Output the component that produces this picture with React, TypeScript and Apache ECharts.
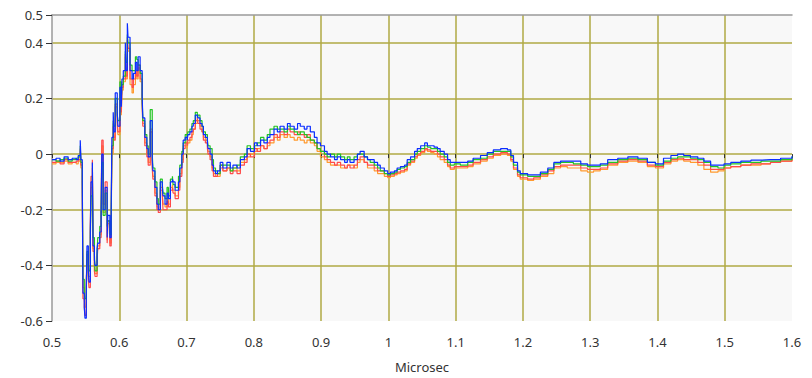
import React, { useEffect, useRef } from "react";
import * as echarts from "echarts";

const times = [
  0.500, 0.506, 0.512, 0.518, 0.524, 0.530, 0.536, 0.539, 0.542, 0.543,
  0.545, 0.546, 0.548, 0.549, 0.551, 0.552, 0.554, 0.555, 0.557, 0.558,
  0.560, 0.561, 0.563, 0.564, 0.567, 0.568, 0.571, 0.573, 0.574, 0.576,
  0.579, 0.582, 0.583, 0.586, 0.588, 0.589, 0.591, 0.592, 0.594, 0.597,
  0.598, 0.601, 0.603, 0.604, 0.606, 0.609, 0.610, 0.612, 0.613, 0.616,
  0.619, 0.621, 0.624, 0.626, 0.628, 0.631, 0.634, 0.635, 0.638, 0.641,
  0.643, 0.646, 0.649, 0.650, 0.653, 0.656, 0.658, 0.661, 0.664, 0.665,
  0.668, 0.671, 0.673, 0.676, 0.679, 0.680, 0.683, 0.686, 0.688, 0.690,
  0.693, 0.695, 0.698, 0.701, 0.702, 0.705, 0.708, 0.710, 0.713, 0.716,
  0.717, 0.720, 0.723, 0.725, 0.728, 0.731, 0.732, 0.735, 0.738, 0.740,
  0.743, 0.746, 0.750, 0.754, 0.760, 0.765, 0.769, 0.775, 0.780, 0.786,
  0.790, 0.795, 0.801, 0.805, 0.810, 0.815, 0.820, 0.824, 0.830, 0.835,
  0.839, 0.845, 0.850, 0.854, 0.860, 0.865, 0.869, 0.875, 0.879, 0.884,
  0.890, 0.894, 0.899, 0.905, 0.909, 0.914, 0.920, 0.924, 0.929, 0.935,
  0.939, 0.943, 0.949, 0.954, 0.958, 0.964, 0.969, 0.973, 0.979, 0.984,
  0.988, 0.994, 0.999, 1.003, 1.009, 1.013, 1.018, 1.024, 1.028, 1.033,
  1.039, 1.043, 1.048, 1.054, 1.058, 1.063, 1.068, 1.073, 1.077, 1.083,
  1.088, 1.092, 1.098, 1.107, 1.118, 1.126, 1.137, 1.147, 1.156, 1.167,
  1.177, 1.182, 1.186, 1.192, 1.196, 1.207, 1.216, 1.226, 1.237, 1.246,
  1.256, 1.266, 1.275, 1.286, 1.296, 1.305, 1.315, 1.326, 1.341, 1.356,
  1.371, 1.385, 1.397, 1.409, 1.420, 1.430, 1.439, 1.449, 1.460, 1.469,
  1.479, 1.490, 1.499, 1.509, 1.524, 1.539, 1.554, 1.568, 1.583, 1.600,
];

const blueVals = [
  -0.02, -0.015, -0.025, -0.01, -0.02, -0.015, -0.02, -0.005, 0.05, -0.02,
  -0.1, -0.5, -0.55, -0.59, -0.5, -0.33, -0.42, -0.46, -0.27, -0.1,
  -0.03, -0.33, -0.38, -0.4, -0.34, -0.32, -0.28, -0.22, 0.0, -0.2,
  -0.12, -0.3, -0.22, -0.3, -0.2, 0.06, 0.15, 0.08, 0.22, 0.15,
  0.1, 0.24, 0.17, 0.27, 0.3, 0.4, 0.3, 0.47, 0.42, 0.3,
  0.27, 0.29, 0.33, 0.3, 0.35, 0.3, 0.21, 0.13, 0.06, 0.02,
  -0.01, 0.12, -0.02, -0.06, -0.12, -0.18, -0.2, -0.1, -0.12, -0.15,
  -0.18, -0.14, -0.16, -0.1, -0.09, -0.1, -0.13, -0.13, -0.1, -0.05,
  0.0, 0.05, 0.06, 0.05, 0.07, 0.08, 0.1, 0.11, 0.14, 0.14,
  0.13, 0.11, 0.1, 0.07, 0.06, 0.04, 0.02, 0.0, -0.04, -0.06,
  -0.07, -0.06, -0.03, -0.05, -0.03, -0.05, -0.04, -0.05, -0.02, -0.01,
  0.02, 0.01, 0.04, 0.03, 0.05, 0.04, 0.06, 0.07, 0.09, 0.08,
  0.1, 0.09, 0.11, 0.1, 0.09, 0.11, 0.1, 0.09, 0.1, 0.08,
  0.06, 0.04, 0.03, 0.01, 0.0, -0.01, -0.02, -0.01, -0.02, -0.03,
  -0.02, -0.03, -0.02, 0.0, 0.01, -0.01, -0.02, -0.02, -0.03, -0.04,
  -0.05, -0.06, -0.07, -0.065, -0.06, -0.05, -0.045, -0.04, -0.02, -0.01,
  0.01, 0.02, 0.03, 0.04, 0.03, 0.03, 0.025, 0.02, 0.01, 0.0,
  -0.02, -0.03, -0.03, -0.03, -0.025, -0.015, -0.005, 0.005, 0.015, 0.02,
  0.015, -0.005, -0.03, -0.06, -0.07, -0.075, -0.075, -0.065, -0.05, -0.03,
  -0.025, -0.025, -0.025, -0.035, -0.04, -0.04, -0.035, -0.02, -0.015, -0.01,
  -0.015, -0.03, -0.035, -0.015, -0.005, 0.0, -0.005, -0.01, -0.015, -0.025,
  -0.04, -0.04, -0.035, -0.03, -0.025, -0.022, -0.02, -0.02, -0.015, -0.008,
];

const greenVals = [
  -0.02, -0.025, -0.02, -0.015, -0.025, -0.02, -0.015, -0.01, 0.03, -0.03,
  -0.08, -0.45, -0.5, -0.52, -0.48, -0.35, -0.4, -0.42, -0.3, -0.15,
  -0.08, -0.3, -0.36, -0.42, -0.36, -0.3, -0.26, -0.2, -0.03, -0.22,
  -0.14, -0.26, -0.24, -0.29, -0.22, 0.03, 0.12, 0.1, 0.2, 0.14,
  0.12, 0.26, 0.2, 0.25, 0.28, 0.37, 0.33, 0.43, 0.4, 0.32,
  0.3, 0.3, 0.35, 0.34, 0.32, 0.29, 0.2, 0.12, 0.07, 0.03,
  0.0, 0.16, 0.0, -0.05, -0.1, -0.16, -0.18, -0.09, -0.11, -0.14,
  -0.16, -0.12, -0.15, -0.09, -0.08, -0.11, -0.12, -0.12, -0.08, -0.04,
  0.01, 0.04, 0.07, 0.06, 0.08, 0.09, 0.11, 0.12, 0.15, 0.13,
  0.14, 0.12, 0.1, 0.08, 0.07, 0.05, 0.03, 0.02, -0.02, -0.05,
  -0.06, -0.07, -0.04, -0.04, -0.04, -0.06, -0.05, -0.04, -0.01, 0.0,
  0.03, 0.02, 0.03, 0.04, 0.06, 0.05, 0.07, 0.09, 0.1, 0.09,
  0.09, 0.08, 0.1, 0.09, 0.08, 0.07, 0.08, 0.07, 0.06, 0.05,
  0.04, 0.02, 0.01, 0.0, -0.01, 0.0, -0.01, 0.0, -0.01, -0.02,
  -0.01, -0.02, -0.01, 0.0, 0.0, -0.01, -0.02, -0.03, -0.04, -0.05,
  -0.06, -0.07, -0.075, -0.07, -0.065, -0.055, -0.05, -0.045, -0.03, -0.02,
  0.0, 0.01, 0.02, 0.03, 0.025, 0.02, 0.02, 0.01, 0.0, -0.01,
  -0.03, -0.04, -0.035, -0.04, -0.03, -0.02, -0.015, 0.0, 0.01, 0.01,
  0.01, -0.01, -0.04, -0.065, -0.075, -0.08, -0.08, -0.07, -0.055, -0.035,
  -0.03, -0.03, -0.035, -0.04, -0.045, -0.045, -0.04, -0.03, -0.02, -0.015,
  -0.02, -0.03, -0.04, -0.025, -0.015, -0.01, -0.01, -0.015, -0.02, -0.03,
  -0.045, -0.05, -0.04, -0.035, -0.03, -0.03, -0.025, -0.025, -0.02, -0.01,
];

const redVals = [
  -0.03, -0.025, -0.035, -0.02, -0.03, -0.03, -0.025, -0.02, 0.02, -0.04,
  -0.12, -0.52, -0.55, -0.58, -0.48, -0.36, -0.45, -0.48, -0.25, -0.08,
  -0.02, -0.35, -0.42, -0.44, -0.38, -0.34, -0.3, -0.24, 0.05, -0.18,
  -0.1, -0.32, -0.24, -0.33, -0.22, 0.02, 0.1, 0.05, 0.18, 0.12,
  0.08, 0.2, 0.15, 0.24, 0.27, 0.36, 0.28, 0.42, 0.38, 0.27,
  0.24, 0.27, 0.3, 0.28, 0.32, 0.27, 0.18, 0.1, 0.03, -0.01,
  -0.04, 0.08, -0.05, -0.09, -0.15, -0.2, -0.21, -0.13, -0.15, -0.2,
  -0.2, -0.17, -0.19, -0.13, -0.12, -0.14, -0.16, -0.16, -0.13, -0.08,
  -0.03, 0.02, 0.04, 0.03, 0.05, 0.06, 0.08, 0.09, 0.12, 0.13,
  0.11, 0.09, 0.08, 0.05, 0.04, 0.02, 0.0, -0.02, -0.06, -0.08,
  -0.08, -0.07, -0.05, -0.06, -0.05, -0.07, -0.06, -0.07, -0.04, -0.03,
  0.0, -0.01, 0.02, 0.01, 0.03, 0.02, 0.04, 0.05, 0.07, 0.06,
  0.08, 0.07, 0.09, 0.08, 0.07, 0.08, 0.07, 0.06, 0.07, 0.05,
  0.04, 0.02, 0.01, -0.01, -0.02, -0.03, -0.04, -0.03, -0.04, -0.05,
  -0.04, -0.05, -0.04, -0.02, -0.01, -0.03, -0.04, -0.04, -0.05, -0.06,
  -0.06, -0.07, -0.08, -0.075, -0.07, -0.065, -0.06, -0.055, -0.035, -0.025,
  -0.01, 0.0, 0.01, 0.02, 0.015, 0.01, 0.01, 0.0, -0.01, -0.02,
  -0.04, -0.05, -0.045, -0.045, -0.04, -0.03, -0.02, -0.01, 0.0, 0.005,
  0.0, -0.02, -0.05, -0.075, -0.085, -0.09, -0.085, -0.075, -0.06, -0.045,
  -0.04, -0.04, -0.04, -0.05, -0.055, -0.055, -0.05, -0.035, -0.025, -0.02,
  -0.025, -0.04, -0.045, -0.03, -0.02, -0.015, -0.02, -0.02, -0.03, -0.04,
  -0.055, -0.055, -0.05, -0.045, -0.04, -0.035, -0.035, -0.03, -0.025, -0.015,
];

const orangeVals = [
  -0.035, -0.03, -0.03, -0.025, -0.035, -0.03, -0.035, -0.025, 0.01, -0.05,
  -0.1, -0.48, -0.52, -0.55, -0.45, -0.38, -0.44, -0.44, -0.28, -0.12,
  -0.05, -0.34, -0.4, -0.43, -0.37, -0.33, -0.29, -0.23, 0.03, -0.21,
  -0.13, -0.31, -0.25, -0.32, -0.24, 0.0, 0.11, 0.06, 0.17, 0.1,
  0.07, 0.21, 0.14, 0.23, 0.26, 0.35, 0.27, 0.41, 0.37, 0.25,
  0.22, 0.25, 0.29, 0.27, 0.31, 0.26, 0.19, 0.11, 0.04, 0.0,
  -0.03, 0.09, -0.04, -0.08, -0.14, -0.19, -0.2, -0.12, -0.14, -0.18,
  -0.19, -0.16, -0.18, -0.12, -0.11, -0.13, -0.15, -0.15, -0.12, -0.07,
  -0.02, 0.03, 0.03, 0.02, 0.04, 0.05, 0.07, 0.09, 0.11, 0.12,
  0.12, 0.1, 0.08, 0.06, 0.05, 0.03, 0.01, -0.01, -0.05, -0.07,
  -0.08, -0.08, -0.04, -0.06, -0.05, -0.06, -0.05, -0.06, -0.03, -0.02,
  -0.01, 0.0, 0.01, 0.02, 0.03, 0.02, 0.03, 0.04, 0.06, 0.05,
  0.07, 0.06, 0.07, 0.06, 0.05, 0.06, 0.05, 0.04, 0.05, 0.04,
  0.03, 0.01, -0.01, -0.02, -0.03, -0.04, -0.04, -0.04, -0.05, -0.05,
  -0.04, -0.04, -0.05, -0.03, -0.02, -0.03, -0.05, -0.05, -0.06, -0.07,
  -0.07, -0.08, -0.085, -0.08, -0.075, -0.07, -0.065, -0.06, -0.04, -0.03,
  -0.015, -0.005, 0.005, 0.015, 0.01, 0.005, 0.0, -0.01, -0.02, -0.03,
  -0.045, -0.055, -0.05, -0.05, -0.045, -0.035, -0.025, -0.015, -0.005, 0.0,
  -0.005, -0.025, -0.055, -0.08, -0.09, -0.095, -0.09, -0.08, -0.07, -0.05,
  -0.045, -0.05, -0.05, -0.06, -0.065, -0.06, -0.055, -0.04, -0.03, -0.025,
  -0.03, -0.045, -0.05, -0.035, -0.025, -0.02, -0.025, -0.03, -0.04, -0.055,
  -0.065, -0.06, -0.05, -0.045, -0.04, -0.04, -0.035, -0.03, -0.025, -0.02,
];

const seriesNames = ["Orange", "Red", "Green", "Blue"];
const seriesColors = ["#ff9a2e", "#ff4a4a", "#22c422", "#0a2cff"];
const seriesValues = [orangeVals, redVals, greenVals, blueVals];

const xMin = 0.5;
const xMax = 1.6;
const xStep = 0.1;
const yMin = -0.6;
const yMax = 0.5;
const yStep = 0.2;
const xAxisTitle = "Microsec";

const FONT = "'Noto Sans', 'DejaVu Sans', sans-serif";
const GRID_COLOR = "#b0aa45";

export default function App() {
  const ref = useRef<HTMLDivElement>(null);

  useEffect(() => {
    if (!ref.current) return;
    const chart = echarts.init(ref.current, null, { renderer: "svg" });
    const series = seriesValues.map((vals, i) => ({
      name: seriesNames[i],
      type: "line",
      xAxisIndex: 0,
      data: times.map((t, k) => [t, vals[k]]),
      showSymbol: false,
      symbol: "none",
      step: "end",
      lineStyle: { color: seriesColors[i], width: 1.2 },
      itemStyle: { color: seriesColors[i] },
      z: 3 + i,
    }));

    chart.setOption({
      animation: false,
      backgroundColor: "#ffffff",
      grid: {
        left: 52,
        right: 20,
        top: 15,
        bottom: 53,
        show: true,
        backgroundColor: "#f8f8f8",
        borderWidth: 0,
      },
      xAxis: [
        {
          type: "value",
          min: xMin,
          max: xMax,
          interval: xStep,
          position: "bottom",
          offset: 3,
          name: xAxisTitle,
          nameLocation: "middle",
          nameGap: 36,
          nameTextStyle: { fontFamily: FONT, fontSize: 13, color: "#333" },
          axisLine: { show: false },
          axisTick: {
            show: true,
            length: 4,
            lineStyle: { color: "#333", width: 1 },
          },
          axisLabel: {
            fontFamily: FONT,
            fontSize: 13,
            color: "#333",
            margin: 11,
          },
          splitLine: {
            show: true,
            showMinLine: false,
            showMaxLine: false,
            lineStyle: { color: GRID_COLOR, width: 1.5 },
          },
        },
        {
          type: "value",
          min: xMin,
          max: xMax,
          interval: xStep,
          position: "top",
          axisLine: { show: true, lineStyle: { color: "#9a9a9a", width: 1.5 } },
          axisTick: { show: false },
          axisLabel: { show: false },
          splitLine: { show: false },
        },
      ],
      yAxis: {
        type: "value",
        min: yMin,
        max: yMax,
        interval: yStep,
        axisLine: { show: true, lineStyle: { color: "#9a9a9a", width: 1.5 } },
        axisTick: {
          show: true,
          length: 6,
          lineStyle: { color: "#333", width: 1 },
        },
        axisLabel: {
          fontFamily: FONT,
          fontSize: 13,
          color: "#333",
          margin: 9,
        },
        splitLine: {
          show: true,
          showMinLine: false,
          showMaxLine: false,
          lineStyle: { color: GRID_COLOR, width: 1.5 },
        },
      },
      series,
    });
    return () => chart.dispose();
  }, []);

  return (
    <div
      ref={ref}
      style={{ position: "fixed", left: 0, top: 0, width: 812, height: 378 }}
    />
  );
}
